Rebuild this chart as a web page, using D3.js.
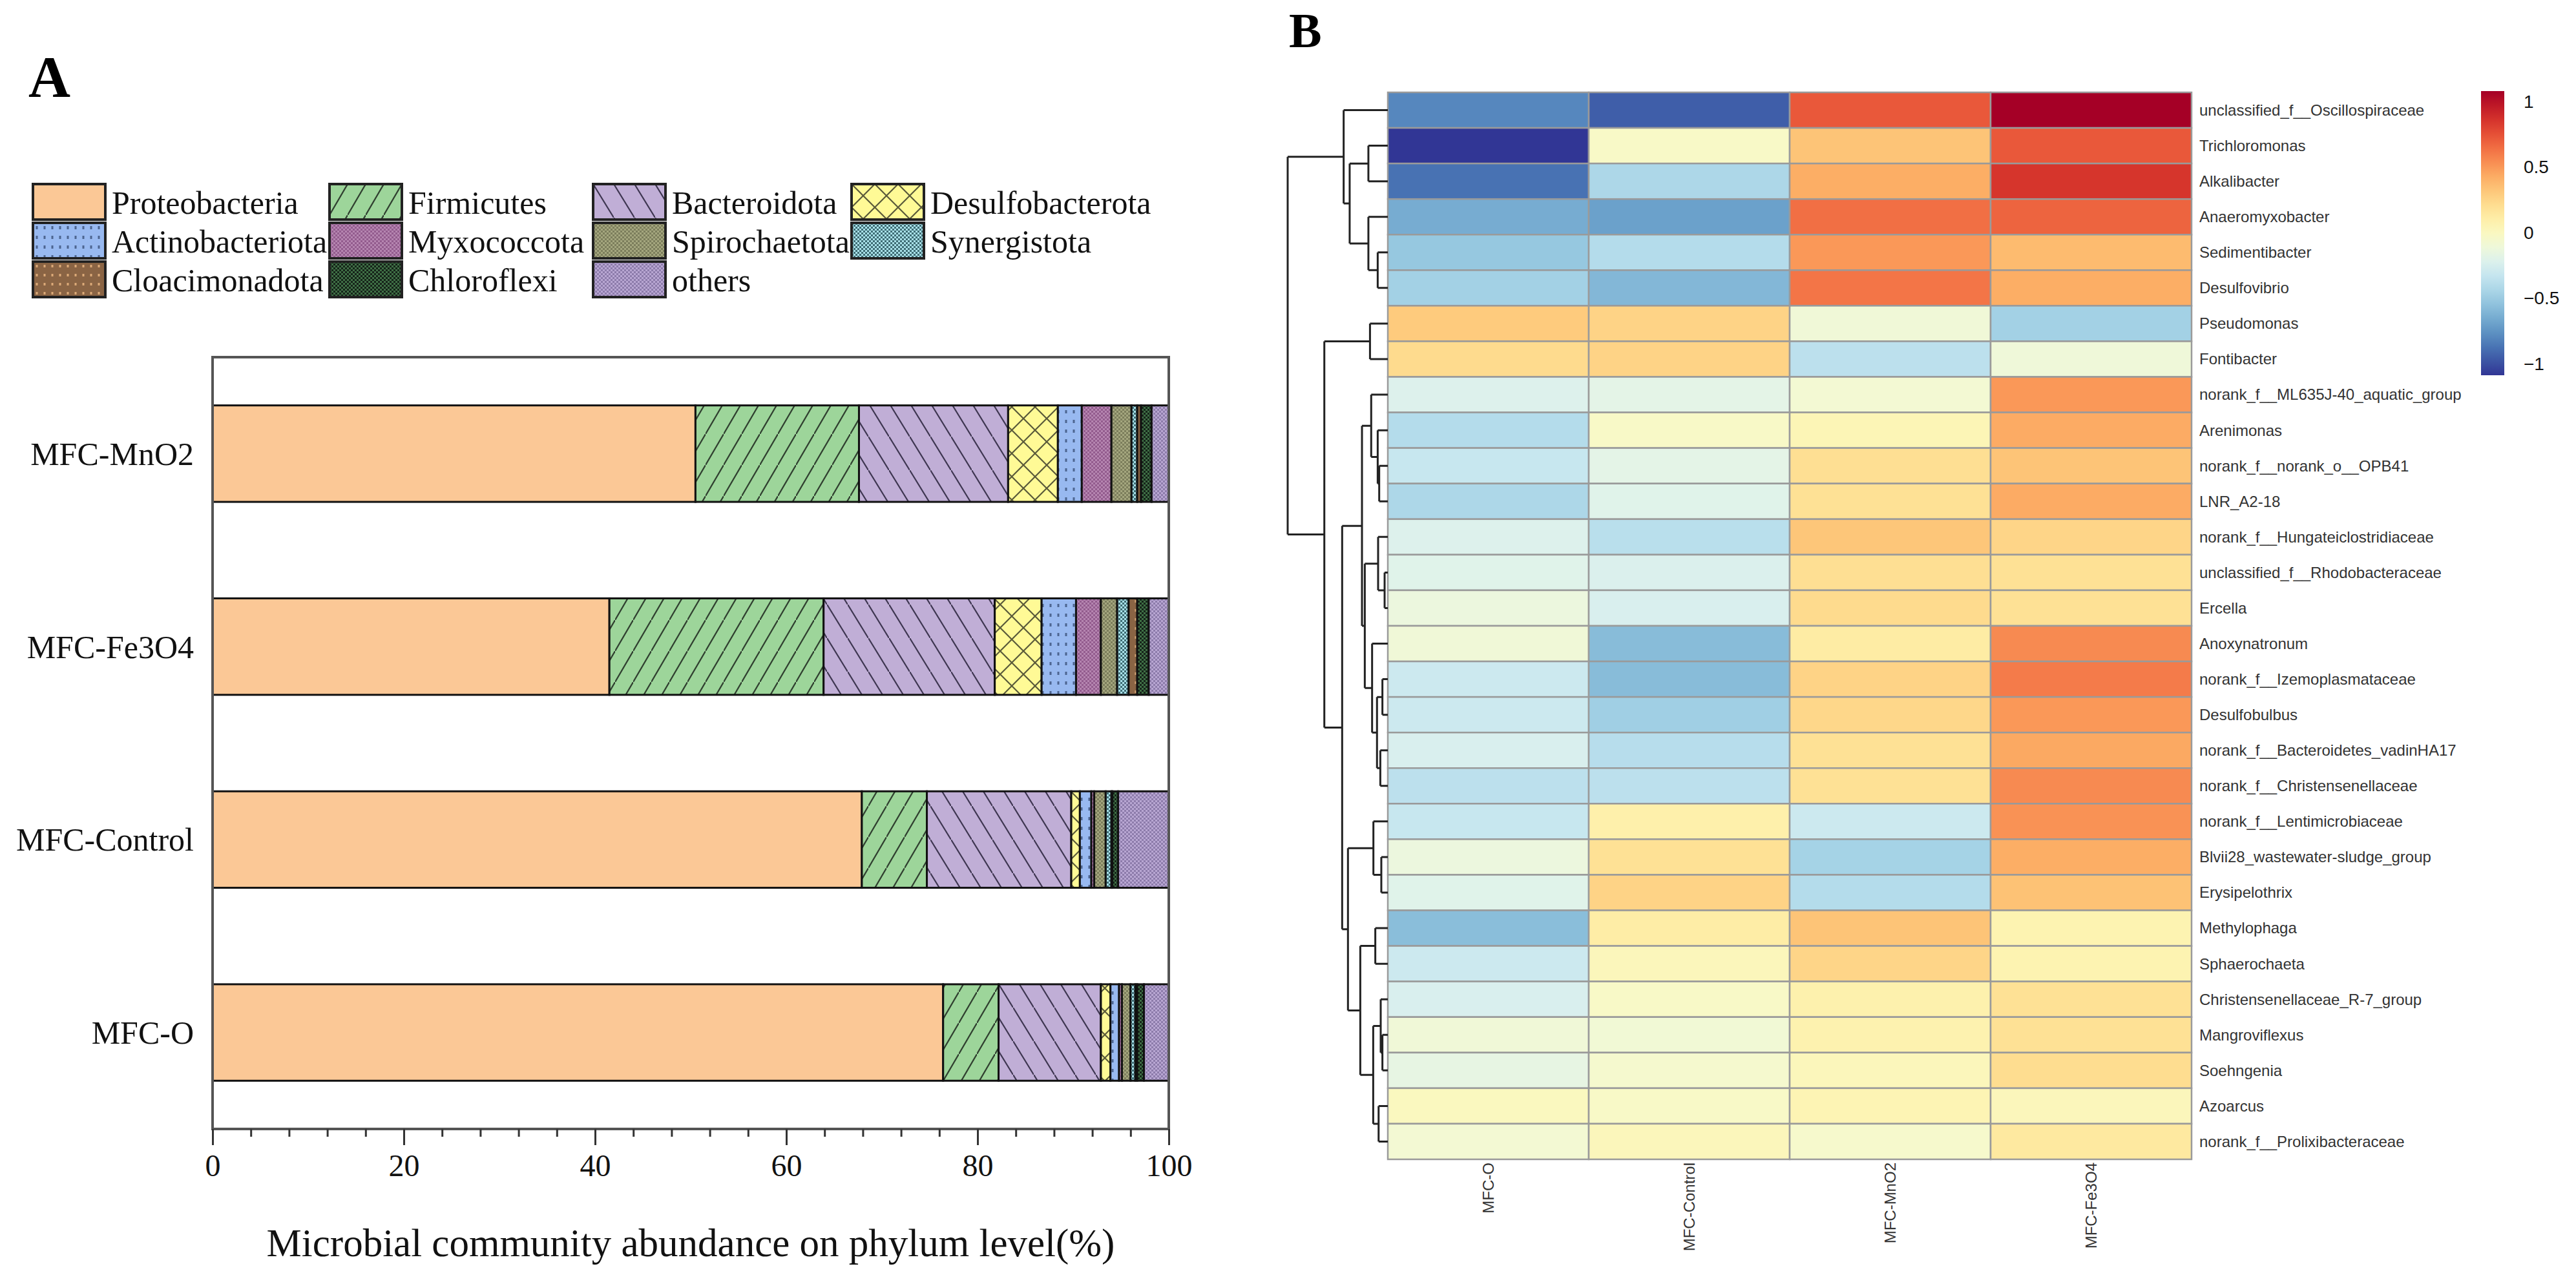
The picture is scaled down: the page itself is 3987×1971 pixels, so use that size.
<!DOCTYPE html>
<html>
<head>
<meta charset="utf-8">
<script src="https://cdn.jsdelivr.net/npm/d3@7"></script>
<style>
  body { margin: 0; background: #fff; }
  svg { display: block; }
</style>
</head>
<body>
<svg id="fig" width="3987" height="1971"></svg>
<script>
// ---------- Panel A: phylum abundance (%) ----------
const samples = ["MFC-MnO2", "MFC-Fe3O4", "MFC-Control", "MFC-O"];
const phyla = ["Proteobacteria", "Firmicutes", "Bacteroidota", "Desulfobacterota",
  "Actinobacteriota", "Myxococcota", "Spirochaetota", "Synergistota",
  "Cloacimonadota", "Chloroflexi", "others"];
// values in the order of `samples`
const proteobacteria   = [50.5, 41.5, 67.9, 76.4];
const firmicutes       = [17.1, 22.4,  6.8,  5.8];
const bacteroidota     = [15.6, 17.9, 15.1, 10.7];
const desulfobacterota = [ 5.2,  4.9,  0.9,  1.0];
const actinobacteriota = [ 2.5,  3.6,  1.2,  0.9];
const myxococcota      = [ 3.1,  2.6,  0.3,  0.3];
const spirochaetota    = [ 2.1,  1.7,  1.2,  0.9];
const synergistota     = [ 0.6,  1.2,  0.6,  0.5];
const cloacimonadota   = [ 0.4,  0.9,  0.1,  0.2];
const chloroflexi      = [ 1.1,  1.2,  0.6,  0.7];
const others           = [ 1.8,  2.1,  5.3,  2.6];
const series = [proteobacteria, firmicutes, bacteroidota, desulfobacterota,
  actinobacteriota, myxococcota, spirochaetota, synergistota,
  cloacimonadota, chloroflexi, others];
const xTicks = [0, 20, 40, 60, 80, 100];

// ---------- Panel B: z-scored genus abundance ----------
const hmSamples = ["MFC-O", "MFC-Control", "MFC-MnO2", "MFC-Fe3O4"];
const genera = ["unclassified_f__Oscillospiraceae", "Trichloromonas", "Alkalibacter",
  "Anaeromyxobacter", "Sedimentibacter", "Desulfovibrio", "Pseudomonas", "Fontibacter",
  "norank_f__ML635J-40_aquatic_group", "Arenimonas", "norank_f__norank_o__OPB41",
  "LNR_A2-18", "norank_f__Hungateiclostridiaceae", "unclassified_f__Rhodobacteraceae",
  "Ercella", "Anoxynatronum", "norank_f__Izemoplasmataceae", "Desulfobulbus",
  "norank_f__Bacteroidetes_vadinHA17", "norank_f__Christensenellaceae",
  "norank_f__Lentimicrobiaceae", "Blvii28_wastewater-sludge_group", "Erysipelothrix",
  "Methylophaga", "Sphaerochaeta", "Christensenellaceae_R-7_group", "Mangroviflexus",
  "Soehngenia", "Azoarcus", "norank_f__Prolixibacteraceae"];
const zO       = [-0.80, -1.09, -0.88, -0.65, -0.52, -0.47,  0.30,  0.22, -0.22, -0.40,
                  -0.32, -0.43, -0.22, -0.20, -0.13, -0.10, -0.30, -0.30, -0.24, -0.37,
                  -0.32, -0.13, -0.20, -0.57, -0.30, -0.24, -0.10, -0.16,  0.00, -0.08];
const zControl = [-0.95, -0.03, -0.43, -0.70, -0.40, -0.60,  0.26,  0.26, -0.18, -0.03,
                  -0.18, -0.20, -0.38, -0.23, -0.24, -0.58, -0.58, -0.48, -0.39, -0.37,
                   0.09,  0.19,  0.26,  0.11,  0.02, -0.03, -0.09, -0.06, -0.03,  0.02];
const zMnO2    = [ 0.72,  0.33,  0.42,  0.64,  0.50,  0.62, -0.10, -0.37, -0.08,  0.04,
                   0.20,  0.19,  0.32,  0.20,  0.22,  0.12,  0.26,  0.24,  0.19,  0.19,
                  -0.30, -0.46, -0.40,  0.33,  0.25,  0.08,  0.07,  0.02,  0.05, -0.05];
const zFe3O4   = [ 1.08,  0.72,  0.85,  0.68,  0.37,  0.42, -0.47, -0.11,  0.50,  0.43,
                   0.33,  0.43,  0.25,  0.19,  0.19,  0.55,  0.60,  0.50,  0.44,  0.55,
                   0.52,  0.42,  0.34,  0.06,  0.06,  0.19,  0.19,  0.21,  0.02,  0.14];
const zSeries = [zO, zControl, zMnO2, zFe3O4];
// row dendrogram: [height, left, right]; leaves are row indices
const rowTree = [10.0,
  [4.41, 0, [3.81, [1.94, 1, 2], [1.94, 3, [1.01, 4, 5]]]],
  [6.34, [1.78, 6, 7],
    [4.56,
      [2.58,
        [1.66, 8, [1.01, 9, [0.86, 10, 11]]],
        [2.30, [0.97, 12, [0.32, 13, 14]],
               [1.57, 15, [1.08, [0.54, 16, 17], [0.75, 18, 19]]]]],
      [3.98,
        [1.44, 20, [0.65, 21, 22]],
        [2.75, [1.25, 23, 24],
               [1.46, [0.71, 25, [0.54, 26, 27]], [0.92, 28, 29]]]]]]];
const zMin = -1.09, zMax = 1.08;
const legendTicks = [-1, -0.5, 0, 0.5, 1];

const svg = d3.select("#fig");
const defs = svg.append("defs");
const serif = "'Liberation Serif', 'Times New Roman', serif";
const sans = "'Liberation Sans', Arial, Helvetica, sans-serif";

// ---------- fill patterns ----------
function pattern(id, w, h, bg) {
  const p = defs.append("pattern").attr("id", id)
    .attr("patternUnits", "userSpaceOnUse").attr("width", w).attr("height", h);
  p.append("rect").attr("width", w).attr("height", h).attr("fill", bg);
  return p;
}
function hatch(id, w, h, bg, dir, col) {
  const p = pattern(id, w, h, bg);
  const d = dir > 0
    ? `M${-0.1 * w},${1.1 * h}L${1.1 * w},${-0.1 * h}`
    : `M${-0.1 * w},${-0.1 * h}L${1.1 * w},${1.1 * h}`;
  p.append("path").attr("d", d).attr("stroke", col).attr("stroke-width", 2.2).attr("fill", "none");
}
function checker(id, s, bg, fg) {
  const p = pattern(id, 2 * s, 2 * s, bg);
  p.append("rect").attr("width", s).attr("height", s).attr("fill", fg);
  p.append("rect").attr("x", s).attr("y", s).attr("width", s).attr("height", s).attr("fill", fg);
}
function dots(id, w, h, bg, fg, dw, dh) {
  const p = pattern(id, w, h, bg);
  p.append("rect").attr("x", (w - dw) / 2).attr("y", (h - dh) / 2)
    .attr("width", dw).attr("height", dh).attr("fill", fg);
}
hatch("p1", 28, 48, "#9dd59a", 1, "#2f3f2f");
hatch("p2", 32, 52, "#c0aed6", -1, "#3d3550");
(function () {
  const p = pattern("p3", 36, 36, "#fffa96");
  p.append("path").attr("d", "M-2,-2L38,38M-2,38L38,-2")
    .attr("stroke", "#5a5a3a").attr("stroke-width", 2.2);
})();
dots("p4", 12, 15, "#98b9f0", "#4d6590", 3, 5);
checker("p5", 3, "#935c8e", "#b585b0");
checker("p6", 3, "#a4a67e", "#7c7e5c");
checker("p7", 3, "#a8e0e8", "#3f6d75");
dots("p8", 12, 14, "#8a6444", "#dcaa78", 3, 4);
checker("p9", 3, "#16241a", "#3f6f45");
checker("p10", 3, "#b8a6d2", "#8d7cab");
const fills = ["#fbc896", "url(#p1)", "url(#p2)", "url(#p3)", "url(#p4)", "url(#p5)",
  "url(#p6)", "url(#p7)", "url(#p8)", "url(#p9)", "url(#p10)"];

// ---------- Panel A ----------
const gA = svg.append("g");
const xA = d3.scaleLinear().domain([0, 100]).range([329, 1809]);
const yA = d3.scaleBand().domain(samples).range([553, 1748]).paddingInner(0.5).paddingOuter(0.25);

const table = samples.map((s, i) => {
  const row = { sample: s };
  phyla.forEach((ph, j) => { row[ph] = series[j][i]; });
  return row;
});
const stacked = d3.stack().keys(phyla)(table);

gA.selectAll("g.layer").data(stacked).join("g").attr("class", "layer")
  .attr("fill", (d, i) => fills[i])
  .selectAll("rect").data(d => d).join("rect")
  .attr("x", d => xA(d[0]))
  .attr("y", d => yA(d.data.sample))
  .attr("width", d => xA(d[1]) - xA(d[0]))
  .attr("height", yA.bandwidth())
  .attr("stroke", "#111").attr("stroke-width", 3);

// frame
gA.append("rect").attr("x", xA(0)).attr("y", 553)
  .attr("width", xA(100) - xA(0)).attr("height", 1748 - 553)
  .attr("fill", "none").attr("stroke", "#555").attr("stroke-width", 4);

// x axis: minor + major ticks
const minor = gA.append("g").attr("transform", "translate(0,1748)")
  .call(d3.axisBottom(xA).tickValues(d3.range(0, 101, 4)).tickSize(12).tickFormat(""));
const major = gA.append("g").attr("transform", "translate(0,1748)")
  .call(d3.axisBottom(xA).tickValues(xTicks).tickSize(25).tickPadding(14));
[minor, major].forEach(g => {
  g.select(".domain").remove();
  g.selectAll(".tick line").attr("stroke", "#333").attr("stroke-width", 3);
});
major.selectAll(".tick text").attr("font-family", serif).attr("font-size", 48).attr("fill", "#111");

gA.append("text").attr("x", (xA(0) + xA(100)) / 2).attr("y", 1945)
  .attr("text-anchor", "middle").attr("font-family", serif).attr("font-size", 61)
  .attr("fill", "#111").text("Microbial community abundance on phylum level(%)");

// y labels
gA.selectAll("text.ylab").data(samples).join("text").attr("class", "ylab")
  .attr("x", 300).attr("y", d => yA(d) + yA.bandwidth() / 2).attr("dy", "0.35em")
  .attr("text-anchor", "end").attr("font-family", serif).attr("font-size", 50)
  .attr("fill", "#111").text(d => d);

// legend, 4 per row
const legColX = [51, 510, 918, 1318];
const leg = gA.selectAll("g.leg").data(phyla).join("g").attr("class", "leg")
  .attr("transform", (d, i) => `translate(${legColX[i % 4]},${285 + 60 * Math.floor(i / 4)})`);
leg.append("rect").attr("width", 112).attr("height", 55)
  .attr("fill", (d, i) => fills[i]).attr("stroke", "#222").attr("stroke-width", 4);
leg.append("text").attr("x", 122).attr("y", 28).attr("dy", "0.35em")
  .attr("font-family", serif).attr("font-size", 50).attr("fill", "#111").text(d => d);

gA.append("text").attr("x", 44).attr("y", 150).attr("font-family", serif)
  .attr("font-weight", "bold").attr("font-size", 90).text("A");

// ---------- Panel B ----------
const gB = svg.append("g");
const xB = d3.scaleBand().domain(hmSamples).range([2148, 3392]);
const yB = d3.scaleBand().domain(genera).range([143, 1795]);
const color = d3.scaleSequential(d3.interpolateRdYlBu).domain([zMax, zMin]);

const cells = [];
genera.forEach((g, r) => hmSamples.forEach((s, c) => cells.push({ g, s, v: zSeries[c][r] })));
gB.selectAll("rect.cell").data(cells).join("rect").attr("class", "cell")
  .attr("x", d => xB(d.s)).attr("y", d => yB(d.g))
  .attr("width", xB.bandwidth()).attr("height", yB.bandwidth())
  .attr("fill", d => color(d.v)).attr("stroke", "#9a9a9a").attr("stroke-width", 2.5);

gB.selectAll("text.rlab").data(genera).join("text").attr("class", "rlab")
  .attr("x", 3404).attr("y", d => yB(d) + yB.bandwidth() / 2).attr("dy", "0.35em")
  .attr("font-family", sans).attr("font-size", 24).attr("fill", "#333").text(d => d);

gB.selectAll("text.clab").data(hmSamples).join("text").attr("class", "clab")
  .attr("transform", d => `translate(${xB(d) + xB.bandwidth() / 2},1800) rotate(-90)`)
  .attr("dy", "0.35em").attr("text-anchor", "end")
  .attr("font-family", sans).attr("font-size", 24).attr("fill", "#333").text(d => d);

// row dendrogram
const root = d3.hierarchy(rowTree, d => Array.isArray(d) ? d.slice(1) : null);
const xD = d3.scaleLinear().domain([0, rowTree[0]]).range([2148, 1993]);
const nodeH = n => n.children ? n.data[0] : 0;
root.eachAfter(n => {
  n.py = n.children ? d3.mean(n.children, c => c.py) : yB(genera[n.data]) + yB.bandwidth() / 2;
});
const dPath = d3.path();
root.each(n => {
  if (!n.children) return;
  const x0 = xD(nodeH(n));
  const [a, b] = n.children;
  dPath.moveTo(x0, a.py); dPath.lineTo(x0, b.py);
  n.children.forEach(c => { dPath.moveTo(x0, c.py); dPath.lineTo(xD(nodeH(c)), c.py); });
});
gB.append("path").attr("d", dPath.toString()).attr("fill", "none")
  .attr("stroke", "#222").attr("stroke-width", 3);

// colour key
const yC = d3.scaleLinear().domain([zMin, zMax]).range([581, 141]);
const grad = defs.append("linearGradient").attr("id", "cbar")
  .attr("x1", 0).attr("y1", 1).attr("x2", 0).attr("y2", 0);
grad.selectAll("stop").data(d3.range(0, 1.0001, 0.05)).join("stop")
  .attr("offset", t => t)
  .attr("stop-color", t => color(zMin + t * (zMax - zMin)));
gB.append("rect").attr("x", 3840).attr("y", yC(zMax)).attr("width", 36)
  .attr("height", yC(zMin) - yC(zMax)).attr("fill", "url(#cbar)");
gB.selectAll("text.ctick").data(legendTicks).join("text").attr("class", "ctick")
  .attr("x", 3906).attr("y", d => yC(d)).attr("dy", "0.35em")
  .attr("font-family", sans).attr("font-size", 28).attr("fill", "#111")
  .text(d => d3.format("~g")(d));

gB.append("text").attr("x", 1995).attr("y", 73).attr("font-family", serif)
  .attr("font-weight", "bold").attr("font-size", 76).text("B");
</script>
</body>
</html>
